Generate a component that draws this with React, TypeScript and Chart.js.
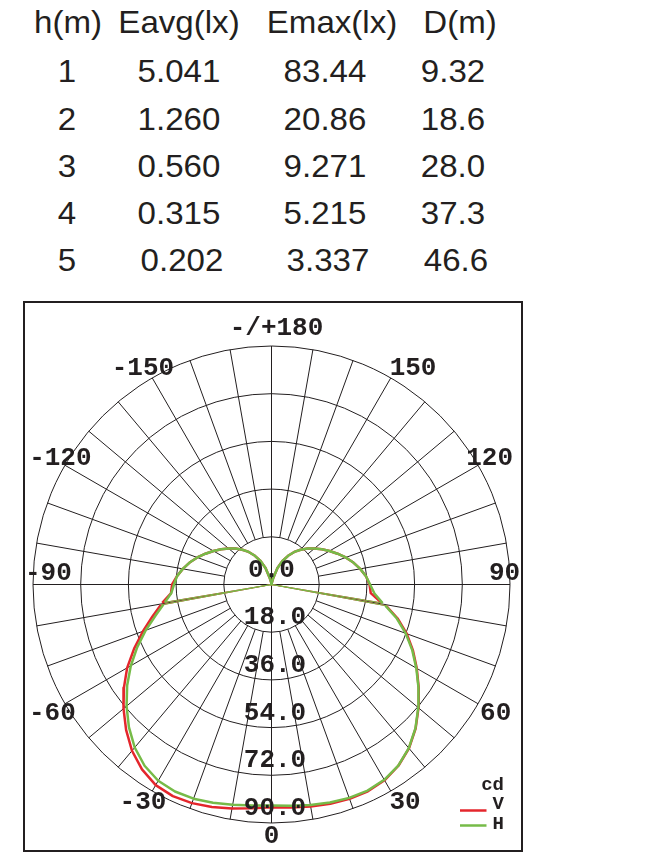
import { useEffect, useRef } from 'react';
import { Chart, registerables } from 'chart.js';

Chart.register(...registerables);

// ---- table ----
const HEADERS = ['h(m)', 'Eavg(lx)', 'Emax(lx)', 'D(m)'];
const HEIGHTS = ['1', '2', '3', '4', '5'];
const EAVG = ['5.041', '1.260', '0.560', '0.315', '0.202'];
const EMAX = ['83.44', '20.86', '9.271', '5.215', '3.337'];
const DIST = ['9.32', '18.6', '28.0', '37.3', '46.6'];

// ---- polar curve (cd), gamma measured from nadir ----
const GAMMA = [0, 5, 10, 15, 20, 25, 30, 35, 40, 45, 50, 55, 60, 65, 70, 75, 79.5, 80, 80.5, 85, 90,
  95, 100, 105, 110, 115, 120, 125, 130, 135, 140, 145, 150, 155, 160, 165, 170, 175, 180];
const SPIKE_GAMMA = 80;

const V_RIGHT = [84.1, 84.5, 85.1, 85.7, 86.1, 86.1, 85.3, 83.5, 80.7, 76.9, 72.4, 67.8, 63.3, 58.9, 54.3, 49.2, 44.0, 0, 42.1, 37.6, 37.0,
  35.8, 34.0, 32.0, 29.8, 27.5, 25.3, 23.2, 21.1, 19.2, 17.1, 15.0, 12.5, 9.8, 6.6, 2.4, 0.5, 0.1, 0];
const V_LEFT = [84.1, 84.8, 85.8, 86.9, 87.8, 88.1, 87.4, 85.2, 81.9, 77.6, 72.9, 68.0, 62.9, 57.2, 51.6, 46.5, 42.5, 0, 41.8, 38.1, 37.5,
  35.8, 34.0, 32.0, 29.8, 27.5, 25.3, 23.2, 21.1, 19.2, 17.1, 15.0, 12.5, 9.8, 6.6, 2.4, 0.5, 0.1, 0];
const H_RIGHT = [83.4, 83.8, 84.5, 85.2, 85.7, 85.8, 85.1, 83.4, 80.6, 76.8, 72.3, 67.7, 63.1, 58.6, 53.9, 48.8, 43.7, 0, 42.5, 39.0, 37.2,
  35.8, 34.0, 32.0, 29.8, 27.5, 25.3, 23.2, 21.1, 19.2, 17.1, 15.0, 12.5, 9.8, 6.6, 2.4, 0.5, 0.1, 0];
const H_LEFT = [83.4, 83.7, 84.4, 85.3, 86.0, 86.2, 85.5, 83.5, 80.3, 76.1, 71.4, 66.5, 61.3, 55.9, 50.5, 45.3, 41.5, 0, 40.8, 38.0, 36.8,
  35.8, 34.0, 32.0, 29.8, 27.5, 25.3, 23.2, 21.1, 19.2, 17.1, 15.0, 12.5, 9.8, 6.6, 2.4, 0.5, 0.1, 0];

const RING_VALUES = [0, 18, 36, 54, 72, 90];
const ANGLE_TICKS = [180, 150, 120, 90, 60, 30, 0, -30, -60, -90, -120, -150];

// styling / layout
const TEXT = '#231f20';
const RED = '#e4262c';
const GREEN = '#76bb48';
const MONO = '"Liberation Mono", "DejaVu Sans Mono", monospace';
const CANVAS = { left: 23, top: 301, width: 500, height: 551 };
const CENTER = { x: 248.5, y: 283.5 };
const OUTER_PX = 238.5;
const R_MAX = 90;
const LABEL_R = 95.5;
const LABEL_NUDGE: Record<number, [number, number]> = {
  180: [5, -5], 150: [15, 1.5], 120: [-1, -1], 90: [-20, -13], 60: [5, 0], 30: [7, -3.5],
  0: [0, -3.5], [-30]: [-2, -3.5], [-60]: [0, 0], [-90]: [30, -13], [-120]: [8, -1], [-150]: [-2, 1.5],
};

type P = { x: number; y: number; g: number; r: number };

function polar(g: number, r: number): P {
  const a = (g * Math.PI) / 180;
  return { x: r * Math.sin(a), y: -r * Math.cos(a), g, r };
}

function buildCurve(left: number[], right: number[]): P[] {
  const pts: P[] = [];
  for (let i = GAMMA.length - 1; i > 0; i--) pts.push(polar(-GAMMA[i], left[i]));
  for (let i = 0; i < GAMMA.length; i++) pts.push(polar(GAMMA[i], right[i]));
  return pts;
}

const polarDecor = {
  id: 'polarDecor',
  beforeDatasetsDraw(chart: Chart) {
    const { ctx } = chart;
    const xs = chart.scales.x;
    const ys = chart.scales.y;
    const cx = xs.getPixelForValue(0);
    const cy = ys.getPixelForValue(0);
    const rad = (v: number) => xs.getPixelForValue(v) - cx;
    ctx.save();
    ctx.strokeStyle = TEXT;
    ctx.lineWidth = 1;
    RING_VALUES.slice(1).forEach((v) => {
      ctx.beginPath();
      ctx.arc(cx, cy, rad(v), 0, Math.PI * 2);
      ctx.stroke();
    });
    const r0 = rad(RING_VALUES[1]);
    const r1 = rad(R_MAX);
    for (let a = 0; a < 360; a += 10) {
      const t = (a * Math.PI) / 180;
      const inner = a % 90 === 0 ? -r1 : r0;
      ctx.beginPath();
      ctx.moveTo(cx + inner * Math.sin(t), cy + inner * Math.cos(t));
      ctx.lineTo(cx + r1 * Math.sin(t), cy + r1 * Math.cos(t));
      ctx.stroke();
    }
    ctx.restore();
  },
  afterDatasetsDraw(chart: Chart) {
    const { ctx, width, height } = chart;
    const xs = chart.scales.x;
    const ys = chart.scales.y;
    const cx = xs.getPixelForValue(0);
    const cy = ys.getPixelForValue(0);
    const rad = (v: number) => xs.getPixelForValue(v) - cx;
    ctx.save();
    ctx.fillStyle = TEXT;
    ctx.font = `bold 26px ${MONO}`;
    ctx.textAlign = 'center';
    ctx.textBaseline = 'alphabetic';

    RING_VALUES.forEach((v) => {
      const s = v.toFixed(1);
      ctx.fillText(s, cx + (s.length - 3) * 3.5, cy + rad(v) - 8);
    });

    ANGLE_TICKS.forEach((a) => {
      const t = (a * Math.PI) / 180;
      const d = rad(LABEL_R);
      const [nx, ny] = LABEL_NUDGE[a];
      const s = a === 180 ? '-/+180' : String(a);
      ctx.fillText(s, cx + d * Math.sin(t) + nx, cy + d * Math.cos(t) + ny + 8.5);
    });

    // legend
    ctx.font = `bold 19px ${MONO}`;
    ctx.textAlign = 'right';
    ctx.fillText('cd', 481, 489);
    ctx.fillText('V', 481, 508);
    ctx.fillText('H', 481, 528);
    ctx.lineWidth = 2.5;
    ctx.strokeStyle = RED;
    ctx.beginPath();
    ctx.moveTo(437, 509.5);
    ctx.lineTo(463.5, 509.5);
    ctx.stroke();
    ctx.strokeStyle = GREEN;
    ctx.beginPath();
    ctx.moveTo(437, 524.5);
    ctx.lineTo(463.5, 524.5);
    ctx.stroke();

    // frame
    ctx.strokeStyle = TEXT;
    ctx.lineWidth = 2;
    ctx.strokeRect(1, 1, width - 2, height - 2);
    ctx.restore();
  },
};

function PolarChart() {
  const canvasRef = useRef<HTMLCanvasElement>(null);
  const chartRef = useRef<Chart | null>(null);

  useEffect(() => {
    if (!canvasRef.current) return;
    const ctx = canvasRef.current.getContext('2d');
    if (!ctx) return;
    if (chartRef.current) chartRef.current.destroy();

    const k = OUTER_PX / R_MAX;
    const vPts = buildCurve(V_LEFT, V_RIGHT);
    const hPts = buildCurve(H_LEFT, H_RIGHT);
    const thin = (pts: P[]) => (c: any) =>
      Math.abs(pts[c.p0DataIndex].g) === SPIKE_GAMMA || Math.abs(pts[c.p1DataIndex].g) === SPIKE_GAMMA ? 1 : 2.5;

    chartRef.current = new Chart(ctx, {
      type: 'scatter',
      data: {
        datasets: [
          {
            label: 'V',
            data: vPts,
            showLine: true,
            borderColor: RED,
            borderWidth: 2.5,
            borderJoinStyle: 'round',
            pointRadius: 0,
            tension: 0,
            order: 1,
            segment: { borderWidth: thin(vPts) },
          },
          {
            label: 'H',
            data: hPts,
            showLine: true,
            borderColor: GREEN,
            borderWidth: 2.5,
            borderJoinStyle: 'round',
            pointRadius: 0,
            tension: 0,
            order: 0,
            segment: { borderWidth: thin(hPts) },
          },
        ],
      },
      options: {
        responsive: false,
        animation: false,
        events: [],
        layout: { padding: 0 },
        plugins: { legend: { display: false }, tooltip: { enabled: false } },
        scales: {
          x: { type: 'linear', display: false, min: -CENTER.x / k, max: (CANVAS.width - CENTER.x) / k },
          y: { type: 'linear', display: false, min: -(CANVAS.height - CENTER.y) / k, max: CENTER.y / k },
        },
      },
      plugins: [polarDecor],
    });

    return () => {
      if (chartRef.current) {
        chartRef.current.destroy();
        chartRef.current = null;
      }
    };
  }, []);

  return (
    <canvas
      ref={canvasRef}
      width={CANVAS.width}
      height={CANVAS.height}
      style={{ position: 'absolute', left: CANVAS.left, top: CANVAS.top }}
    />
  );
}

const HEADER_X = [67.5, 179.3, 331.8, 459.5];
const CELL_X = [67, 178.5, 325, 453.2];
const LAST_ROW_SHIFT = [0, 3.2, 3.3, 2.6];

function Cell({ text, x, baseline }: { text: string; x: number; baseline: number }) {
  return (
    <div
      style={{
        position: 'absolute',
        left: x - 100,
        top: baseline - 26.7,
        width: 200,
        textAlign: 'center',
        fontSize: 31.5,
        lineHeight: 1,
        transform: 'scaleX(1.05)',
        whiteSpace: 'nowrap',
      }}
    >
      {text}
    </div>
  );
}

export default function App() {
  const cols = [HEIGHTS, EAVG, EMAX, DIST];
  return (
    <div
      style={{
        position: 'absolute',
        left: 0,
        top: 0,
        width: 649,
        height: 867,
        background: '#fff',
        color: TEXT,
        fontFamily: '"Liberation Sans", Arial, sans-serif',
        overflow: 'hidden',
      }}
    >
      {HEADERS.map((h, i) => (
        <Cell key={h} text={h} x={HEADER_X[i]} baseline={33.3} />
      ))}
      {HEIGHTS.map((_, r) =>
        cols.map((col, c) => (
          <Cell
            key={`${r}-${c}`}
            text={col[r]}
            x={CELL_X[c] + (r === HEIGHTS.length - 1 ? LAST_ROW_SHIFT[c] : 0)}
            baseline={83 + r * 47.2}
          />
        )),
      )}
      <PolarChart />
    </div>
  );
}
